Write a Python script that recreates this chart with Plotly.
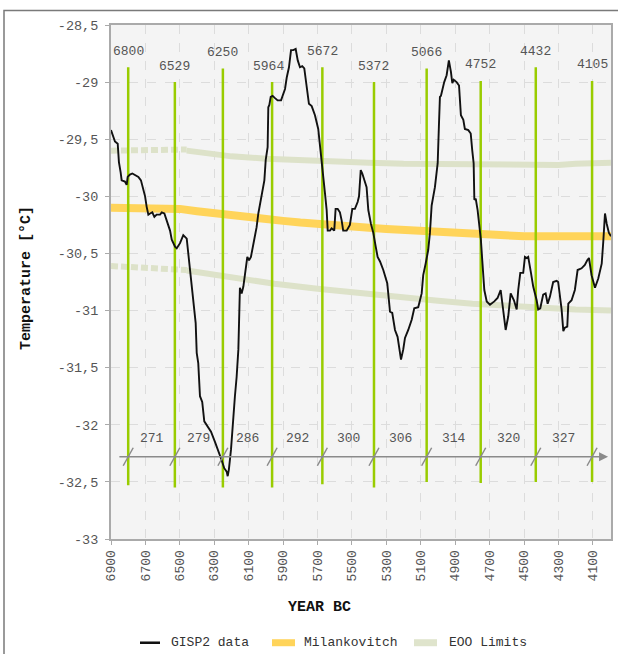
import plotly.graph_objects as go

# ---------------- data ----------------
gisp2_years = [6900, 6887, 6877, 6861, 6854, 6844, 6838, 6819, 6809, 6803, 6790, 6776, 6761, 6741, 6726,
               6712, 6702, 6693, 6683, 6673, 6660, 6648, 6635, 6615, 6605, 6590, 6576, 6557, 6547, 6528,
               6518, 6499, 6480, 6460, 6451, 6441, 6428, 6416, 6408, 6402, 6393, 6383, 6370, 6358, 6344,
               6319, 6296, 6277, 6257, 6242, 6228, 6222, 6215, 6203, 6190, 6180, 6170, 6160, 6151, 6141,
               6131, 6122, 6108, 6098, 6087, 6068, 6054, 6044, 6034, 6025, 6009, 6001, 5990, 5986, 5980,
               5972, 5961, 5947, 5932, 5912, 5899, 5889, 5879, 5866, 5854, 5841, 5827, 5815, 5802, 5789,
               5777, 5763, 5750, 5734, 5715, 5696, 5686, 5676, 5667, 5657, 5647, 5641, 5628, 5618, 5603,
               5595, 5583, 5570, 5560, 5551, 5531, 5512, 5498, 5483, 5467, 5459, 5449, 5440, 5415, 5405,
               5390, 5376, 5362, 5351, 5337, 5318, 5295, 5289, 5279, 5266, 5250, 5235, 5225, 5215, 5202,
               5192, 5173, 5153, 5138, 5115, 5095, 5086, 5072, 5057, 5047, 5037, 5018, 5002, 4995, 4989,
               4983, 4975, 4964, 4950, 4937, 4925, 4917, 4909, 4892, 4878, 4867, 4853, 4844, 4824, 4810,
               4801, 4793, 4789, 4781, 4770, 4762, 4751, 4743, 4731, 4717, 4698, 4673, 4654, 4636, 4625,
               4607, 4592, 4578, 4559, 4543, 4534, 4522, 4505, 4495, 4485, 4476, 4460, 4447, 4427, 4418,
               4406, 4389, 4375, 4363, 4350, 4331, 4311, 4302, 4282, 4272, 4263, 4249, 4243, 4224, 4205,
               4189, 4166, 4147, 4133, 4123, 4108, 4088, 4069, 4049, 4040, 4030, 4020, 4007, 3995]
gisp2_temp = [-29.42, -29.47, -29.52, -29.54, -29.70, -29.79, -29.86, -29.87, -29.90, -29.83, -29.81, -29.80, -29.81, -29.83, -29.86,
              -29.95, -30.00, -30.09, -30.16, -30.15, -30.14, -30.18, -30.16, -30.16, -30.14, -30.15, -30.22, -30.30, -30.38, -30.44,
              -30.455, -30.41, -30.34, -30.37, -30.50, -30.645, -30.82, -30.97, -31.11, -31.37, -31.46, -31.75, -31.80, -31.97, -32.00,
              -32.06, -32.15, -32.22, -32.31, -32.38, -32.41, -32.45, -32.39, -32.22, -31.93, -31.75, -31.58, -31.34, -30.80, -30.85,
              -30.79, -30.70, -30.53, -30.56, -30.53, -30.38, -30.27, -30.15, -30.06, -30.00, -29.86, -29.68, -29.57, -29.22, -29.20,
              -29.13, -29.12, -29.14, -29.16, -29.16, -29.09, -29.06, -28.96, -28.87, -28.72, -28.72, -28.71, -28.81, -28.87, -28.86,
              -28.88, -29.03, -29.19, -29.21, -29.29, -29.41, -29.54, -29.68, -29.83, -29.97, -30.12, -30.30, -30.30, -30.28, -30.30,
              -30.11, -30.11, -30.14, -30.21, -30.30, -30.30, -30.25, -30.11, -30.11, -30.05, -30.00, -29.77, -29.80, -29.92, -30.12,
              -30.24, -30.32, -30.44, -30.53, -30.57, -30.645, -30.76, -30.85, -31.01, -31.02, -31.17, -31.23, -31.32, -31.43, -31.34,
              -31.24, -31.17, -31.08, -30.98, -30.97, -30.85, -30.69, -30.59, -30.47, -30.32, -30.08, -29.92, -29.71, -29.39, -29.13,
              -29.12, -29.06, -29.00, -28.94, -28.81, -28.91, -29.01, -28.98, -29.00, -29.03, -29.29, -29.33, -29.41, -29.42, -29.45,
              -29.60, -29.71, -30.03, -30.02, -30.12, -30.21, -30.38, -30.56, -30.82, -30.92, -30.95, -30.92, -30.89, -30.82, -30.97,
              -31.17, -31.05, -30.85, -30.91, -30.99, -30.82, -30.67, -30.67, -30.53, -30.54, -30.53, -30.67, -30.79, -30.91, -30.99,
              -30.98, -30.86, -30.85, -30.94, -30.88, -30.75, -30.74, -30.75, -30.99, -31.18, -31.15, -31.14, -30.94, -30.91, -30.82,
              -30.645, -30.63, -30.60, -30.56, -30.54, -30.69, -30.80, -30.72, -30.59, -30.40, -30.15, -30.24, -30.32, -30.35]

mil_years = [6900, 6800, 6700, 6600, 6500, 6400, 6300, 6200, 6100, 6000, 5900, 5800, 5700, 5600, 5500,
             5400, 5300, 5200, 5100, 5000, 4900, 4800, 4700, 4600, 4500, 4400, 4300, 4200, 4100, 3995]
mil_temp = [-30.10, -30.10, -30.10, -30.10, -30.11, -30.13, -30.15, -30.165, -30.18, -30.20, -30.215, -30.23, -30.245, -30.255, -30.265,
            -30.275, -30.285, -30.295, -30.305, -30.315, -30.32, -30.33, -30.34, -30.345, -30.35, -30.35, -30.35, -30.35, -30.35, -30.35]

# EOO limits: extrapolated (dotted) part and main (solid) part
eoo_dot_years = [6900, 6800, 6700, 6600, 6500, 6460]
eoo_up_dot = [-29.60, -29.60, -29.595, -29.59, -29.59, -29.59]
eoo_lo_dot = [-30.61, -30.615, -30.62, -30.63, -30.64, -30.645]
eoo_up_years = [6460, 6300, 6200, 6000, 5800, 5600, 5400, 5200, 5000, 4800, 4600, 4400, 4300, 4200, 4100, 3995]
eoo_up = [-29.60, -29.635, -29.65, -29.67, -29.685, -29.70, -29.705, -29.715, -29.72, -29.725, -29.73, -29.73, -29.725, -29.715, -29.71, -29.705]
eoo_lo_years = [6460, 6300, 6100, 5950, 5700, 5450, 5200, 5000, 4800, 4600, 4400, 4200, 3995]
eoo_lo = [-30.65, -30.69, -30.74, -30.765, -30.81, -30.85, -30.89, -30.915, -30.94, -30.96, -30.98, -30.99, -31.00]

# event markers (vertical lines)
event_years = [6800, 6529, 6250, 5964, 5672, 5372, 5066, 4752, 4432, 4105]
event_top = [-28.87, -29.00, -28.88, -29.00, -28.87, -29.00, -28.88, -28.99, -28.87, -28.99]
event_bottom = [-32.53, -32.55, -32.55, -32.55, -32.52, -32.55, -32.50, -32.51, -32.50, -32.50]

x_tick_vals = [6900, 6700, 6500, 6300, 6100, 5900, 5700, 5500, 5300, 5100, 4900, 4700, 4500, 4300, 4100]
x_tick_text = ["6900", "6700", "6500", "6300", "6100", "5900", "5700", "5500", "5300", "5100", "4900", "4700", "4500", "4300", "4100"]
y_tick_vals = [-33, -32.5, -32, -31.5, -31, -30.5, -30, -29.5, -29, -28.5]
y_tick_text = ["-33", "-32,5", "-32", "-31,5", "-31", "-30,5", "-30", "-29,5", "-29", "-28,5"]

x_range = [6900, 3995]
y_range = [-33, -28.5]
interval_axis_y = -32.28
interval_label_y = -32.12
interval_axis_start = 6860
interval_axis_end = 4012

# ---------------- styles ----------------
FONT = "Liberation Mono, Courier New, monospace"
TXT = "#555555"
GREEN = "#99cc00"
GOLD = "#ffd45a"
EOO = "#dde2c9"

fig = go.Figure()

eoo_line = dict(color=EOO, width=6)
fig.add_trace(go.Scatter(x=eoo_dot_years, y=eoo_up_dot, mode="lines",
                         line=dict(color=EOO, width=6, dash="7px,3px"), showlegend=False, hoverinfo="skip"))
fig.add_trace(go.Scatter(x=eoo_dot_years, y=eoo_lo_dot, mode="lines",
                         line=dict(color=EOO, width=6, dash="7px,3px"), showlegend=False, hoverinfo="skip"))
fig.add_trace(go.Scatter(x=eoo_up_years, y=eoo_up, mode="lines", line=eoo_line, showlegend=False, hoverinfo="skip"))
fig.add_trace(go.Scatter(x=eoo_lo_years, y=eoo_lo, mode="lines", line=eoo_line, showlegend=False, hoverinfo="skip"))
fig.add_trace(go.Scatter(x=mil_years, y=mil_temp, mode="lines", line=dict(color=GOLD, width=8),
                         showlegend=False, hoverinfo="skip"))

vx, vy = [], []
for yr, top, bot in zip(event_years, event_top, event_bottom):
    vx += [yr, yr, None]
    vy += [bot, top, None]
fig.add_trace(go.Scatter(x=vx, y=vy, mode="lines", line=dict(color=GREEN, width=2.5),
                         showlegend=False, hoverinfo="skip"))

fig.add_trace(go.Scatter(x=gisp2_years, y=gisp2_temp, mode="lines", line=dict(color="#111111", width=1.9),
                         showlegend=False))

annotations = []
shapes = []

# event labels
for i, (yr, top) in enumerate(zip(event_years, event_top)):
    annotations.append(dict(x=yr, y=top, xref="x", yref="y", text=str(yr), showarrow=False,
                            xanchor="center", yanchor="middle",
                            yshift=16, xshift=(-4 if yr == 5964 else 0),
                            font=dict(family=FONT, size=13, color=TXT)))

# interval axis arrow
annotations.append(dict(x=interval_axis_end, y=interval_axis_y, ax=interval_axis_start, ay=interval_axis_y,
                        xref="x", yref="y", axref="x", ayref="y", text="", showarrow=True,
                        arrowhead=2, arrowsize=1.2, arrowwidth=1.5, arrowcolor="#8a8a8a"))
for yr in event_years:
    shapes.append(dict(type="line", xref="x", yref="y", xsizemode="pixel", ysizemode="pixel",
                       xanchor=yr, yanchor=interval_axis_y, x0=-5, x1=5, y0=-9, y1=9,
                       line=dict(color="#8a8a8a", width=1.5)))
for a, b in zip(event_years[:-1], event_years[1:]):
    annotations.append(dict(x=(a + b) / 2, y=interval_label_y, xref="x", yref="y", text=str(a - b),
                            showarrow=False, xanchor="center", yanchor="middle",
                            font=dict(family=FONT, size=13, color=TXT)))

# axis titles
annotations.append(dict(x=-0.1686, y=0.507, xref="paper", yref="paper", text="<b>Temperature [°C]</b>",
                        textangle=-90, showarrow=False, xanchor="center", yanchor="middle",
                        font=dict(family=FONT, size=15, color="#111111")))
annotations.append(dict(x=0.416, y=-0.1337, xref="paper", yref="paper", text="<b>YEAR BC</b>",
                        showarrow=False, xanchor="center", yanchor="middle",
                        font=dict(family=FONT, size=15, color="#111111")))

# legend (custom)
legend_y = -0.2018
legend_items = [("GISP2 data", "#111111", 2.5, 0.058, 0.098, 0.116),
                ("Milankovitch", GOLD, 7, 0.322, 0.368, 0.3826),
                ("EOO Limits", "#dfe4cc", 7, 0.606, 0.652, 0.6714)]
for name, col, w, x0, x1, xt in legend_items:
    shapes.append(dict(type="line", xref="paper", yref="paper", x0=x0, x1=x1, y0=legend_y, y1=legend_y,
                       line=dict(color=col, width=w)))
    annotations.append(dict(x=xt, y=legend_y, xref="paper", yref="paper", text=name, showarrow=False,
                            xanchor="left", yanchor="middle",
                            font=dict(family=FONT, size=13, color="#333333")))

# outer frame
shapes.append(dict(type="rect", xref="paper", yref="paper", x0=-0.214, x1=1.06, y0=-0.32, y1=1.0284,
                   line=dict(color="#7a7a7a", width=1.5), layer="below"))

fig.update_layout(
    width=618, height=654,
    margin=dict(l=111, r=7, t=25, b=115, autoexpand=False),
    paper_bgcolor="white", plot_bgcolor="#f4f4f4",
    font=dict(family=FONT, size=13, color=TXT),
    showlegend=False,
    annotations=annotations, shapes=shapes,
    xaxis=dict(range=x_range, tickvals=x_tick_vals, ticktext=x_tick_text, tickangle=-90,
               automargin=False,
               showgrid=True, gridcolor="#dcdcdc", griddash="dash", gridwidth=1,
               showline=True, linecolor="#aaaaaa", linewidth=2, mirror=True,
               ticks="outside", ticklen=4, tickcolor="#aaaaaa", zeroline=False,
               tickfont=dict(family=FONT, size=13, color=TXT)),
    yaxis=dict(range=y_range, tickvals=y_tick_vals, ticktext=y_tick_text,
               automargin=False,
               showgrid=True, gridcolor="#dcdcdc", griddash="dash", gridwidth=1,
               showline=True, linecolor="#aaaaaa", linewidth=2, mirror=True,
               ticks="outside", ticklen=4, tickcolor="#aaaaaa", zeroline=False,
               ticklabelstandoff=4,
               tickfont=dict(family=FONT, size=13.5, color=TXT)),
)

fig.write_html("out.html", config={"displayModeBar": False},
               post_script="document.body.style.margin='0px';document.body.style.overflow='hidden';")
